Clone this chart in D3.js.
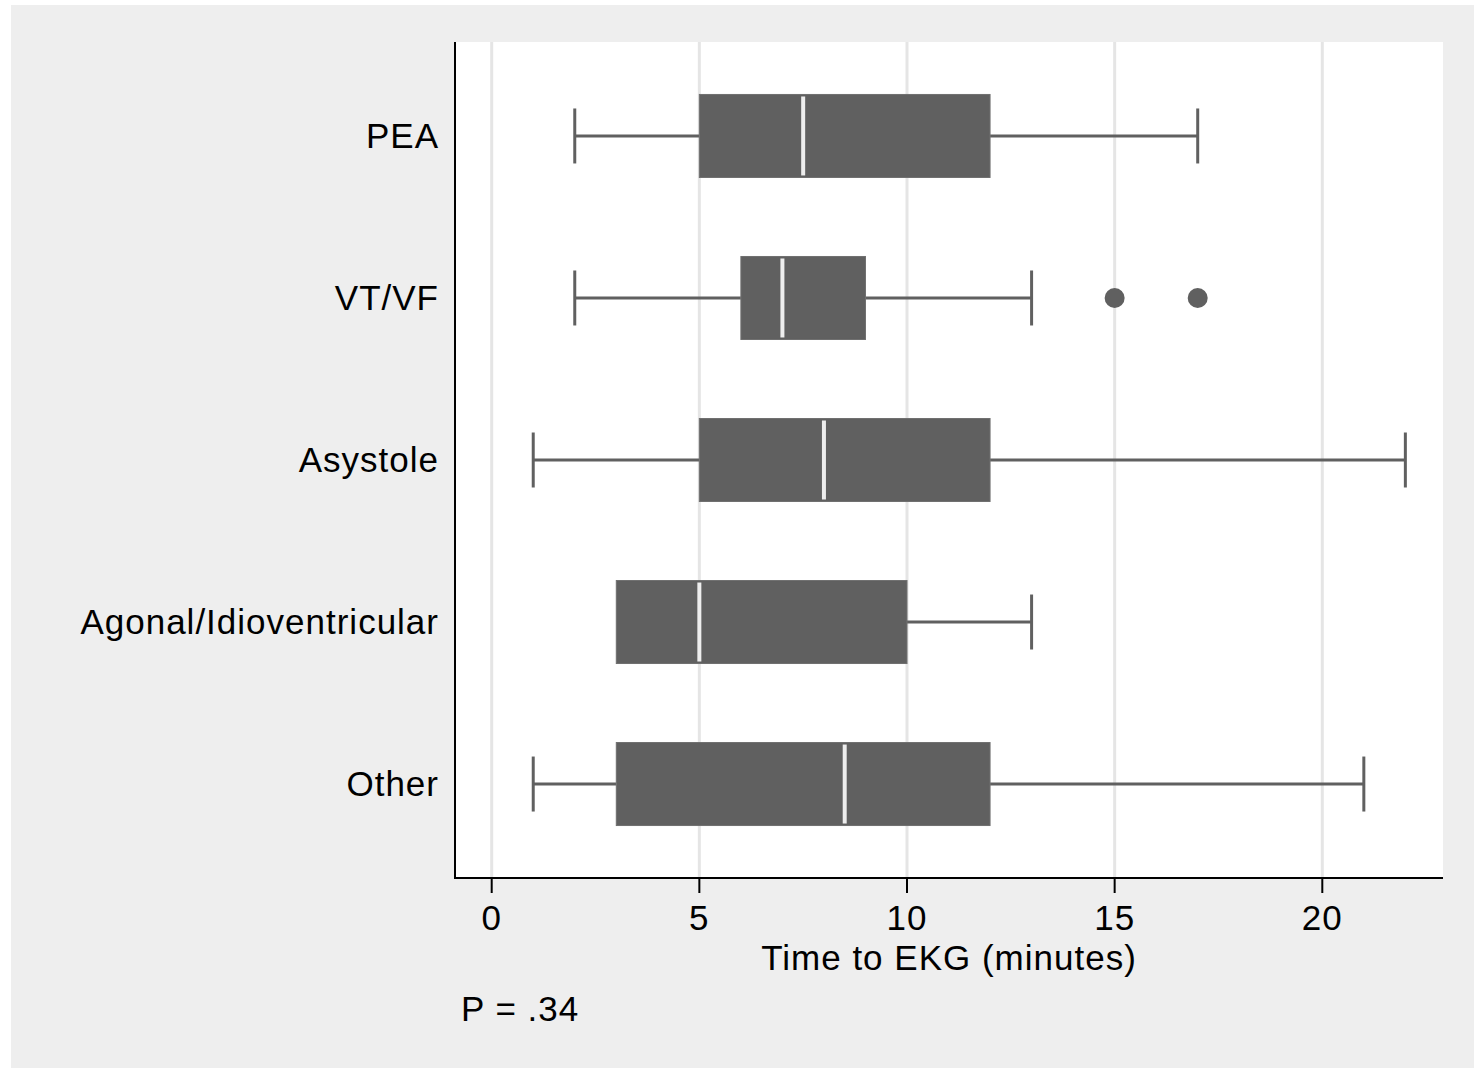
<!DOCTYPE html>
<html>
<head>
<meta charset="utf-8">
<script src="https://cdn.jsdelivr.net/npm/d3@7"></script>
<style>
  html, body { margin: 0; padding: 0; background: #ffffff; }
  svg { display: block; font-family: "Liberation Sans", Arial, Helvetica, sans-serif; }
  svg text { letter-spacing: 1px; }
</style>
</head>
<body>
<div id="chart"></div>
<script>
// Data
var categories = ["PEA", "VT/VF", "Asystole", "Agonal/Idioventricular", "Other"];
var lower_whisker = [2, 2, 1, 3, 1];
var q1_values = [5, 6, 5, 3, 3];
var medians = [7.5, 7, 8, 5, 8.5];
var q3_values = [12, 9, 12, 10, 12];
var upper_whisker = [17, 13, 22, 13, 21];
var outliers = [[], [15, 17], [], [], []];
var x_ticks = [0, 5, 10, 15, 20];
var x_title = "Time to EKG (minutes)";
var note_text = "P = .34";

var total_width = 1474;
var total_height = 1068;
var font_size = 35;

var bounds = { left: 455, right: 1443, top: 42, bottom: 878 };

var svg_root = d3.select("#chart").append("svg")
    .attr("width", total_width)
    .attr("height", total_height);

// Outer grey panel (thin white strip on top/left)
svg_root.append("rect")
    .attr("x", 11).attr("y", 5)
    .attr("width", total_width - 11).attr("height", total_height - 5)
    .attr("fill", "#eeeeee");

// Plot region
svg_root.append("rect")
    .attr("x", bounds.left).attr("y", bounds.top)
    .attr("width", bounds.right - bounds.left).attr("height", bounds.bottom - bounds.top)
    .attr("fill", "#ffffff");

var x = d3.scaleLinear().domain([0, 20]).range([491.7, 1322.3]);
var y = d3.scalePoint().domain(categories).range([bounds.top, bounds.bottom]).padding(0.58);

// Grid lines
svg_root.append("g").selectAll("line")
    .data(x_ticks)
    .enter().append("line")
        .attr("x1", function(d) { return x(d); })
        .attr("x2", function(d) { return x(d); })
        .attr("y1", bounds.top)
        .attr("y2", bounds.bottom)
        .attr("stroke", "#e5e5e5")
        .attr("stroke-width", 3);

var box_h = 83;
var cap_h = 55;
var box_color = "#606060";

var rows = categories.map(function(c, i) {
    return { cat: c, lo: lower_whisker[i], q1: q1_values[i], med: medians[i],
             q3: q3_values[i], hi: upper_whisker[i], out: outliers[i] };
});

var row_g = svg_root.append("g").selectAll("g")
    .data(rows)
    .enter().append("g")
        .attr("transform", function(d) { return "translate(0," + y(d.cat) + ")"; });

// Lower whisker + cap
row_g.filter(function(d) { return d.lo < d.q1; }).each(function(d) {
    var g = d3.select(this);
    g.append("line").attr("x1", x(d.lo)).attr("x2", x(d.q1)).attr("y1", 0).attr("y2", 0)
        .attr("stroke", box_color).attr("stroke-width", 3);
    g.append("line").attr("x1", x(d.lo)).attr("x2", x(d.lo)).attr("y1", -cap_h / 2).attr("y2", cap_h / 2)
        .attr("stroke", box_color).attr("stroke-width", 3);
});

// Upper whisker + cap
row_g.filter(function(d) { return d.hi > d.q3; }).each(function(d) {
    var g = d3.select(this);
    g.append("line").attr("x1", x(d.q3)).attr("x2", x(d.hi)).attr("y1", 0).attr("y2", 0)
        .attr("stroke", box_color).attr("stroke-width", 3);
    g.append("line").attr("x1", x(d.hi)).attr("x2", x(d.hi)).attr("y1", -cap_h / 2).attr("y2", cap_h / 2)
        .attr("stroke", box_color).attr("stroke-width", 3);
});

// Box
row_g.append("rect")
    .attr("x", function(d) { return x(d.q1); })
    .attr("y", -box_h / 2)
    .attr("width", function(d) { return x(d.q3) - x(d.q1); })
    .attr("height", box_h)
    .attr("fill", box_color)
    .attr("stroke", "#707070")
    .attr("stroke-width", 1);

// Median
row_g.append("line")
    .attr("x1", function(d) { return x(d.med); })
    .attr("x2", function(d) { return x(d.med); })
    .attr("y1", -box_h / 2 + 2)
    .attr("y2", box_h / 2 - 2)
    .attr("stroke", "#eeeeee")
    .attr("stroke-width", 4);

// Outliers
row_g.selectAll("circle")
    .data(function(d) { return d.out; })
    .enter().append("circle")
        .attr("cx", function(v) { return x(v); })
        .attr("cy", 0)
        .attr("r", 10)
        .attr("fill", box_color);

// Category labels
row_g.append("text")
    .attr("x", 439)
    .attr("y", 12)
    .attr("text-anchor", "end")
    .attr("font-size", font_size)
    .attr("fill", "#000")
    .text(function(d) { return d.cat; });

// Axes lines
svg_root.append("line")
    .attr("x1", bounds.left).attr("x2", bounds.left)
    .attr("y1", bounds.top).attr("y2", bounds.bottom + 1)
    .attr("stroke", "#000").attr("stroke-width", 2);

var x_axis = svg_root.append("g")
    .attr("transform", "translate(0," + bounds.bottom + ")");
x_axis.append("line")
    .attr("x1", bounds.left).attr("x2", bounds.right)
    .attr("y1", 0).attr("y2", 0)
    .attr("stroke", "#000").attr("stroke-width", 2);

var tick_g = x_axis.selectAll("g.tick")
    .data(x_ticks)
    .enter().append("g")
        .attr("class", "tick")
        .attr("transform", function(d) { return "translate(" + x(d) + ",0)"; });
tick_g.append("line").attr("y1", 0).attr("y2", 15).attr("stroke", "#000").attr("stroke-width", 2);
tick_g.append("text")
    .attr("y", 52)
    .attr("text-anchor", "middle")
    .attr("font-size", font_size)
    .attr("fill", "#000")
    .text(function(d) { return d; });

svg_root.append("text")
    .attr("x", (bounds.left + bounds.right) / 2)
    .attr("y", 970)
    .attr("text-anchor", "middle")
    .attr("font-size", font_size)
    .attr("fill", "#000")
    .text(x_title);

svg_root.append("text")
    .attr("x", 461)
    .attr("y", 1021)
    .attr("font-size", font_size)
    .attr("fill", "#000")
    .text(note_text);
</script>
</body>
</html>
